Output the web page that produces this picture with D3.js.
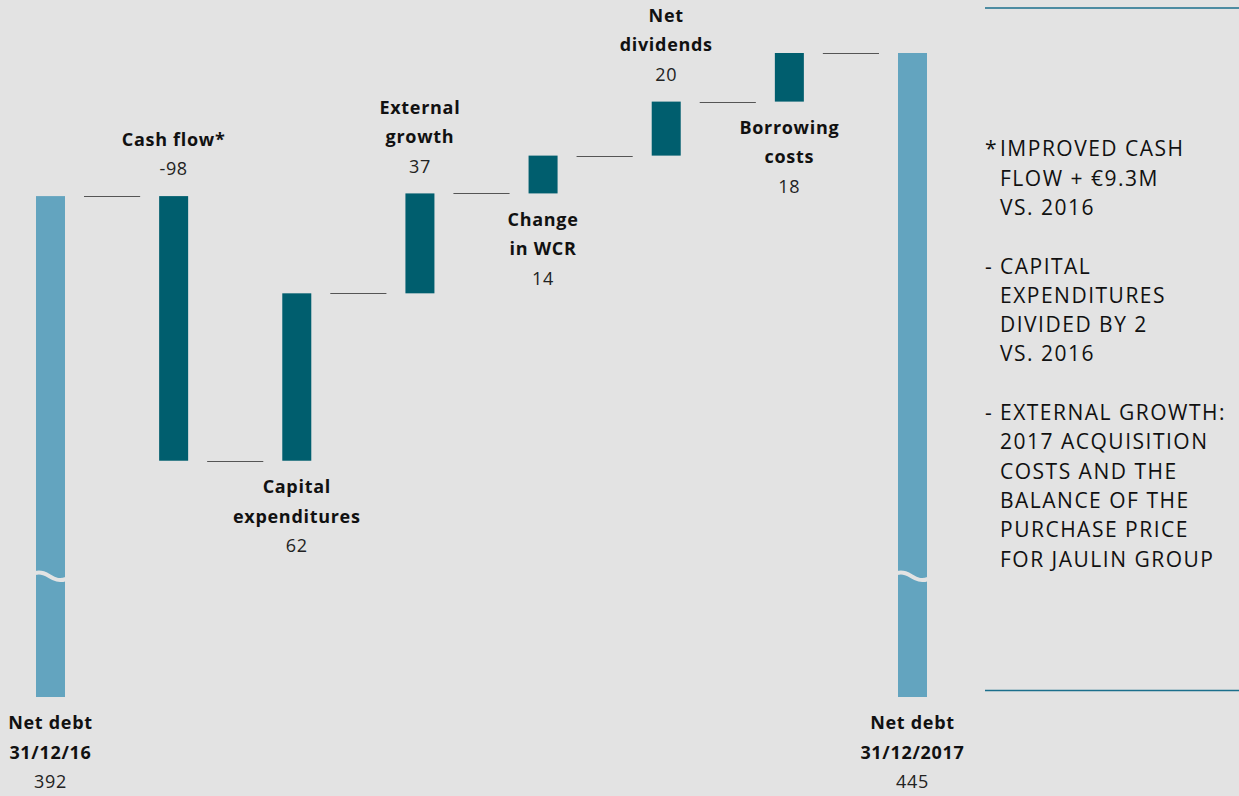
<!DOCTYPE html>
<html lang="en">
<head>
<meta charset="UTF-8">
<title>Net debt bridge 2016-2017</title>
<script src="https://d3js.org/d3.v7.min.js"></script>
<style>
    body{
        margin: 0;
        background: #e3e3e3;
    }
    .chart{
        font-family: "Open Sans", sans-serif;
    }
    .chart .label{
        font-weight: 700;
        font-size: 18px;
        letter-spacing: 0.7px;
        fill: #111;
    }
    .chart .value{
        font-size: 18px;
        letter-spacing: 0.7px;
        fill: #222;
    }
    .chart .note{
        font-size: 21px;
        letter-spacing: 1.5px;
        fill: #111;
    }
</style>
</head>
<body>
<svg class="chart"></svg>
<script>
    const steps = ['start', 'cash', 'capex', 'ext', 'wcr', 'div', 'borrow', 'end'];
    const labels = [
        ['Net debt', '31/12/16'],
        ['Cash flow*'],
        ['Capital', 'expenditures'],
        ['External', 'growth'],
        ['Change', 'in WCR'],
        ['Net', 'dividends'],
        ['Borrowing', 'costs'],
        ['Net debt', '31/12/2017']
    ];
    const values = [392, -98, 62, 37, 14, 20, 18, 445];
    const valueText = ['392', '-98', '62', '37', '14', '20', '18', '445'];
    const notes = [
        ['*', 'IMPROVED CASH'], ['', 'FLOW + €9.3M'], ['', 'VS. 2016'], null,
        ['-', 'CAPITAL'], ['', 'EXPENDITURES'], ['', 'DIVIDED BY 2'], ['', 'VS. 2016'], null,
        ['-', 'EXTERNAL GROWTH:'], ['', '2017 ACQUISITION'], ['', 'COSTS AND THE'],
        ['', 'BALANCE OF THE'], ['', 'PURCHASE PRICE'], ['', 'FOR JAULIN GROUP']
    ];

    const W = 1239, H = 796;
    const bg = '#e3e3e3';
    const light = '#63a4bf';
    const dark = '#005e6e';

    const svg = d3.select('.chart').attr('width', W).attr('height', H);

    // running totals -> bar extents
    let bars = [];
    let total = 0;
    values.forEach((v, i) => {
        if (i === 0 || i === values.length - 1) {
            bars.push({i: i, y0: null, y1: v, total: true});
            total = v;
        } else {
            bars.push({i: i, y0: total, y1: total + v, total: false});
            total += v;
        }
    });

    const x = d3.scaleBand()
        .domain(steps)
        .range([36, 927])
        .paddingInner(0.7645)
        .paddingOuter(0);

    // axis is broken: bottom of the plot sits well above zero
    const y = d3.scaleLinear()
        .domain([206.5, 445])
        .range([697, 53]);

    const bw = x.bandwidth();

    svg.selectAll('.bar')
        .data(bars).enter()
        .append('rect')
        .attr('class', 'bar')
        .attr('x', d => x(steps[d.i]))
        .attr('width', bw)
        .attr('y', d => d.total ? y(d.y1) : y(Math.max(d.y0, d.y1)))
        .attr('height', d => d.total ? y.range()[0] - y(d.y1) : Math.abs(y(d.y0) - y(d.y1)))
        .attr('fill', d => d.total ? light : dark);

    // break marks on the total bars
    const yBreak = 577;
    bars.filter(d => d.total).forEach(d => {
        const x0 = x(steps[d.i]), x1 = x0 + bw;
        svg.append('path')
            .attr('d', `M${x0 - 1},${yBreak - 4} C${x0 + bw * 0.45},${yBreak - 7} ${x0 + bw * 0.55},${yBreak + 7} ${x1 + 1},${yBreak + 2}`)
            .attr('fill', 'none')
            .attr('stroke', bg)
            .attr('stroke-width', 4);
    });

    // connectors
    for (let i = 0; i < bars.length - 1; i++) {
        const lvl = bars[i].y1;
        svg.append('line')
            .attr('x1', x(steps[i]) + bw + 19)
            .attr('x2', x(steps[i + 1]) - 19)
            .attr('y1', Math.round(y(lvl)) + 0.5)
            .attr('y2', Math.round(y(lvl)) + 0.5)
            .attr('stroke', '#555')
            .attr('stroke-width', 1);
    }

    // labels
    const lh = 29.5;
    bars.forEach((d, i) => {
        const cx = x(steps[i]) + bw / 2;
        const lines = labels[i].map(t => ({t: t, cls: 'label'}));
        lines.push({t: valueText[i], cls: 'value'});
        let firstY;
        if (d.total) {
            firstY = y.range()[0] + 26;
        } else if (i % 2 === 1) {
            // above
            const top = y(Math.max(d.y0, d.y1));
            firstY = top - 27 - lh * (lines.length - 1);
        } else {
            const bot = y(Math.min(d.y0, d.y1));
            firstY = bot + 26;
        }
        lines.forEach((l, k) => {
            svg.append('text')
                .attr('class', l.cls)
                .attr('x', cx)
                .attr('y', firstY + k * lh)
                .attr('dy', '0.35em')
                .attr('text-anchor', 'middle')
                .text(l.t);
        });
    });

    // side notes
    svg.append('line').attr('x1', 985).attr('x2', W).attr('y1', 8).attr('y2', 8)
        .attr('stroke', '#1b6f8c').attr('stroke-width', 1.5);
    svg.append('line').attr('x1', 985).attr('x2', W).attr('y1', 690.5).attr('y2', 690.5)
        .attr('stroke', '#1b6f8c').attr('stroke-width', 1.5);

    notes.forEach((n, k) => {
        if (!n) return;
        const yy = 149 + k * 29.3;
        if (n[0]) {
            svg.append('text').attr('class', 'note')
                .attr('x', 985).attr('y', yy).attr('dy', '0.35em').text(n[0]);
        }
        svg.append('text').attr('class', 'note')
            .attr('x', 1000).attr('y', yy).attr('dy', '0.35em').text(n[1]);
    });
</script>
</body>
</html>
